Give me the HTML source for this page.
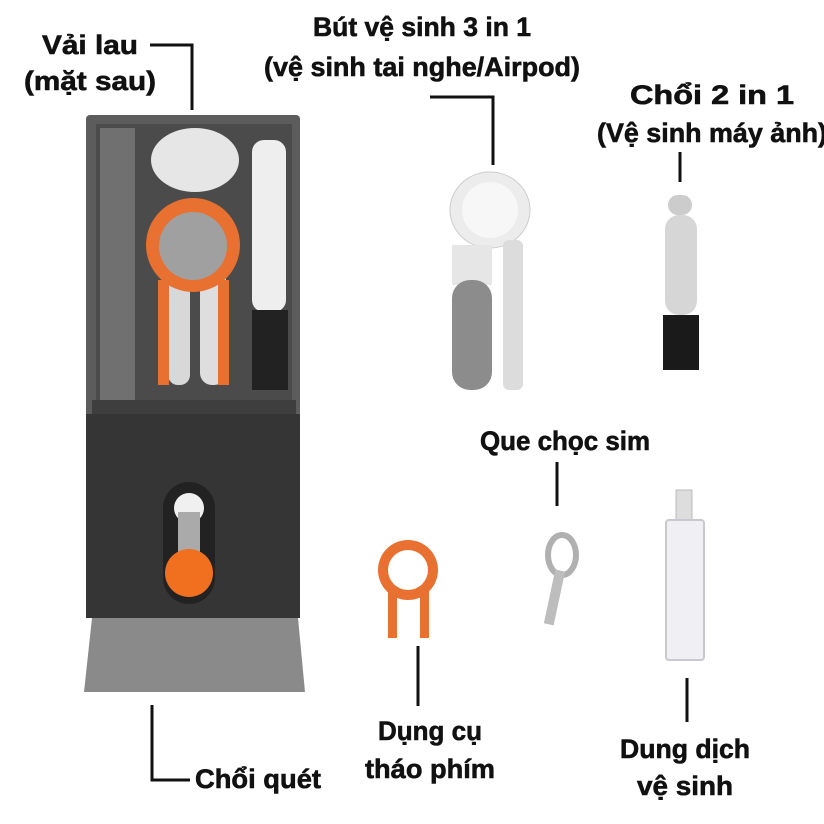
<!DOCTYPE html>
<html><head><meta charset="utf-8"><style>
html,body{margin:0;padding:0;background:#fff}
svg{display:block}
text{font-family:"Liberation Sans","DejaVu Sans",sans-serif;font-weight:bold;fill:#111;stroke:#111;stroke-width:0.6;font-size:27px;text-anchor:middle}
</style></head><body>
<svg width="824" height="824" viewBox="0 0 824 824" xmlns="http://www.w3.org/2000/svg">
<text x="90" y="54" textLength="96" lengthAdjust="spacingAndGlyphs">Vải lau</text>
<text x="90" y="90" textLength="132" lengthAdjust="spacingAndGlyphs">(mặt sau)</text>
<text x="422" y="36" textLength="218" lengthAdjust="spacingAndGlyphs">Bút vệ sinh 3 in 1</text>
<text x="422" y="76" textLength="316" lengthAdjust="spacingAndGlyphs">(vệ sinh tai nghe/Airpod)</text>
<text x="712" y="104" textLength="164" lengthAdjust="spacingAndGlyphs">Chổi 2 in 1</text>
<text x="712" y="142" textLength="230" lengthAdjust="spacingAndGlyphs">(Vệ sinh máy ảnh)</text>
<text x="565" y="450" textLength="170" lengthAdjust="spacingAndGlyphs">Que chọc sim</text>
<text x="430" y="740" textLength="104" lengthAdjust="spacingAndGlyphs">Dụng cụ</text>
<text x="430" y="778" textLength="130" lengthAdjust="spacingAndGlyphs">tháo phím</text>
<text x="685" y="758" textLength="130" lengthAdjust="spacingAndGlyphs">Dung dịch</text>
<text x="685" y="795" textLength="96" lengthAdjust="spacingAndGlyphs">vệ sinh</text>
<text x="258" y="788" textLength="126" lengthAdjust="spacingAndGlyphs">Chổi quét</text>
<g stroke="#111" stroke-width="3" fill="none">
<polyline points="150,45 192,45 192,110"/>
<polyline points="430,97 493,97 493,165"/>
<line x1="680" y1="152" x2="680" y2="182"/>
<line x1="557" y1="462" x2="557" y2="506"/>
<line x1="418" y1="646" x2="418" y2="706"/>
<line x1="687" y1="678" x2="687" y2="722"/>
<polyline points="152,705 152,780 190,780"/>
</g>
<!-- main box -->
<rect x="86" y="115" width="214" height="302" rx="4" fill="#5c5c5c"/>
<rect x="96" y="124" width="196" height="280" fill="#4b4b4b"/>
<rect x="100" y="128" width="35" height="276" fill="#707070"/>
<rect x="92" y="400" width="204" height="14" fill="#3e3e3e"/>
<rect x="86" y="414" width="214" height="204" fill="#353535"/>
<ellipse cx="195" cy="160" rx="44" ry="32" fill="#e6e6e6"/>
<rect x="168" y="240" width="22" height="145" rx="10" fill="#d8d8d8"/>
<rect x="200" y="240" width="26" height="145" rx="12" fill="#dedede"/>
<circle cx="193" cy="245" r="47" fill="#e87030"/>
<circle cx="193" cy="246" r="34" fill="#a0a0a0"/>
<rect x="158" y="280" width="11" height="105" fill="#e87030"/>
<rect x="218" y="280" width="11" height="105" fill="#e87030"/>
<rect x="252" y="140" width="34" height="172" rx="12" fill="#eee"/>
<rect x="252" y="310" width="36" height="80" fill="#222"/>
<!-- slider -->
<rect x="163" y="482" width="52" height="122" rx="26" fill="#222"/>
<circle cx="189" cy="508" r="15" fill="#f0f0f0"/>
<rect x="178" y="512" width="22" height="55" fill="#aaa"/>
<circle cx="189" cy="573" r="24" fill="#f07020"/>
<!-- bottom brush -->
<path d="M92,618 L298,618 L305,692 L84,692 Z" fill="#8a8a8a"/>
<!-- 3in1 pen -->
<ellipse cx="490" cy="210" rx="40" ry="38" fill="#ececec" stroke="#ccc"/>
<circle cx="490" cy="210" r="28" fill="#f7f7f7"/>
<rect x="452" y="245" width="40" height="40" fill="#e6e6e6"/>
<rect x="452" y="280" width="40" height="110" rx="18" fill="#8c8c8c"/>
<rect x="503" y="240" width="20" height="150" rx="6" fill="#dcdcdc"/>
<!-- camera brush -->
<rect x="668" y="195" width="24" height="20" rx="10" fill="#ccc"/>
<rect x="665" y="215" width="32" height="100" rx="14" fill="#d6d6d6"/>
<rect x="663" y="315" width="36" height="55" fill="#1a1a1a"/>
<!-- orange key tool -->
<circle cx="408" cy="570" r="30" fill="#e87030"/>
<circle cx="408" cy="570" r="20" fill="#fff"/>
<rect x="388" y="590" width="9" height="48" fill="#e87030"/>
<rect x="420" y="590" width="9" height="48" fill="#e87030"/>
<!-- sim pin -->
<ellipse cx="562" cy="555" rx="14" ry="20" fill="none" stroke="#b0b0b0" stroke-width="6"/>
<rect x="550" y="570" width="10" height="55" fill="#bdbdbd" transform="rotate(12 555 595)"/>
<!-- spray bottle -->
<rect x="676" y="490" width="16" height="30" fill="#ddd" stroke="#bbb"/>
<rect x="666" y="520" width="38" height="140" rx="3" fill="#f0f0f4" stroke="#c8c8d0" stroke-width="2"/>
</svg>
</body></html>
